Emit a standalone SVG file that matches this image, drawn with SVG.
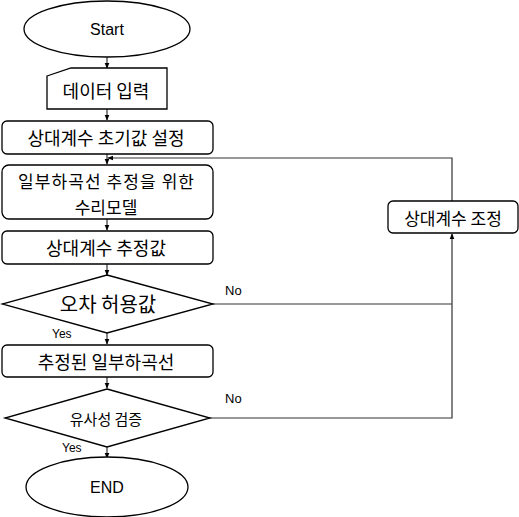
<svg xmlns="http://www.w3.org/2000/svg" width="519" height="517" viewBox="0 0 519 517">
<style>
.s{fill:#fff;stroke:#000;stroke-width:1.3}
.k{font-family:"Noto Sans CJK KR",sans-serif;fill:#000;text-anchor:middle;dominant-baseline:central}
.e{font-family:"Liberation Sans",Arial,sans-serif;fill:#000}
.c{fill:none;stroke:#333;stroke-width:1.2}
</style>
<defs>
<marker id="a" viewBox="0 0 8 8" refX="7" refY="4" markerWidth="6" markerHeight="6" orient="auto" markerUnits="userSpaceOnUse">
<path d="M0,0.8 L8,4 L0,7.2 Z" fill="#000"/>
</marker>
</defs>
<rect width="519" height="517" fill="#fff"/>
<g id="connectors">
<path class="c" d="M107,57 V68" marker-end="url(#a)"/>
<path class="c" d="M107,109 V120" marker-end="url(#a)"/>
<path class="c" d="M107,154 V164" marker-end="url(#a)"/>
<path class="c" d="M107,219 V230" marker-end="url(#a)"/>
<path class="c" d="M107,264 V275" marker-end="url(#a)"/>
<path class="c" d="M107,333 V344" marker-end="url(#a)"/>
<path class="c" d="M107,377 V388" marker-end="url(#a)"/>
<path class="c" d="M107,447 V458" marker-end="url(#a)"/>
<path class="c" d="M213,304 H452"/>
<path class="c" d="M210,418 H452 V234" marker-end="url(#a)"/>
<path class="c" d="M452,201 V158 H108" marker-end="url(#a)"/>
<text class="e" x="225" y="295" font-size="13">No</text>
<text class="e" x="225" y="403" font-size="13">No</text>
<text class="e" x="52" y="338" font-size="12">Yes</text>
<text class="e" x="62" y="452" font-size="12">Yes</text>
</g>
<g id="start">
<ellipse class="s" cx="107" cy="29" rx="83" ry="28"/>
<text class="e" x="107" y="35" font-size="16" text-anchor="middle">Start</text>
</g>
<g id="input">
<path class="s" d="M47,76 L71,68 H167 V109 H47 Z"/>
<text class="k" x="106" y="90" font-size="18">데이터 입력</text>
</g>
<g id="init">
<rect class="s" x="2" y="121" width="211" height="33" rx="5"/>
<text class="k" x="106" y="137" font-size="18">상대계수 초기값 설정</text>
</g>
<g id="model">
<rect class="s" x="2" y="165" width="211" height="54" rx="7"/>
<text class="k" x="106" y="180" font-size="17" textLength="176" lengthAdjust="spacing">일부하곡선 추정을 위한</text>
<text class="k" x="106" y="206" font-size="17">수리모델</text>
</g>
<g id="estimate">
<rect class="s" x="2" y="231" width="211" height="33" rx="5"/>
<text class="k" x="106" y="247" font-size="18">상대계수 추정값</text>
</g>
<g id="error">
<path class="s" d="M107,275 L213,304 L107,333 L2,304 Z"/>
<text class="k" x="108" y="303" font-size="20">오차 허용값</text>
</g>
<g id="curve">
<rect class="s" x="2" y="345" width="211" height="32" rx="5"/>
<text class="k" x="106" y="361" font-size="18">추정된 일부하곡선</text>
</g>
<g id="verify">
<path class="s" d="M107,389 L210,418 L107,447 L5,418 Z"/>
<text class="k" x="106" y="418" font-size="15">유사성 검증</text>
</g>
<g id="end">
<ellipse class="s" cx="107" cy="487" rx="81" ry="30"/>
<text class="e" x="107" y="493" font-size="16" text-anchor="middle">END</text>
</g>
<g id="adjust">
<rect class="s" x="388" y="201" width="130" height="32" rx="5"/>
<text class="k" x="453" y="217" font-size="17">상대계수 조정</text>
</g>
</svg>
